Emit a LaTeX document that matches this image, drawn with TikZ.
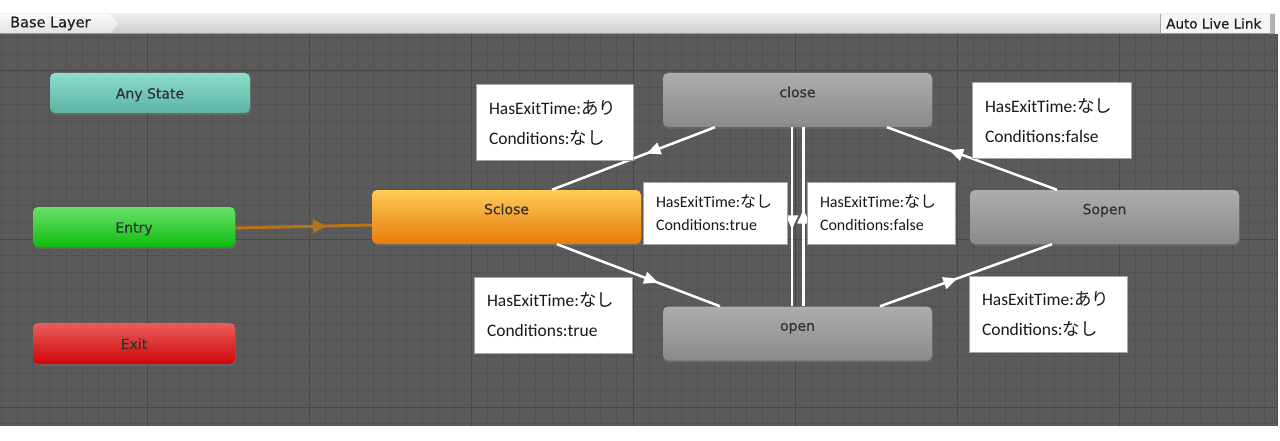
\documentclass[tikz,border=0pt]{standalone}
\usepackage{fontspec}
\usepackage{tikz}
\usetikzlibrary{arrows.meta,decorations.markings,shadows}
\setmainfont{Carlito}
\setsansfont{DejaVu Sans}
\newfontfamily\jp{Noto Sans CJK JP}
\newfontfamily\unityfont{DejaVu Sans}[FakeBold=0.6]

\definecolor{gridbg}{HTML}{5A5A5A}
\definecolor{gridminor}{HTML}{525252}
\definecolor{gridmajor}{HTML}{464646}
\definecolor{entrybrown}{HTML}{B5731A}

\definecolor{anytop}{HTML}{8DDDCB}
\definecolor{anybot}{HTML}{5BB3A3}
\definecolor{entrytop}{HTML}{6AE26A}
\definecolor{entrybot}{HTML}{0FBB0F}
\definecolor{exittop}{HTML}{E95D5D}
\definecolor{exitbot}{HTML}{D00505}
\definecolor{deftop}{HTML}{FFCB55}
\definecolor{defbot}{HTML}{E87C0C}
\definecolor{graytop}{HTML}{ADADAD}
\definecolor{graybot}{HTML}{8A8A8A}

\tikzset{
	unity/.style={rounded corners=5pt, font=\unityfont\fontsize{14}{16}\selectfont, text=black!80,
		drop shadow={opacity=0.35, shadow xshift=1pt, shadow yshift=-2pt}},
	smallstate/.style={unity, minimum width=202pt, minimum height=40pt, text height=11pt, text depth=0pt},
	bigstate/.style={unity, minimum width=269pt, minimum height=54pt, text height=11pt, text depth=16.5pt},
	anystate/.style={smallstate, minimum width=200pt, top color=anytop, bottom color=anybot},
	entrystate/.style={smallstate, top color=entrytop, bottom color=entrybot},
	exitstate/.style={smallstate, minimum height=41pt, top color=exittop, bottom color=exitbot},
	defstate/.style={bigstate, top color=deftop, bottom color=defbot},
	graystate/.style={bigstate, top color=graytop, bottom color=graybot},
	tlabel/.style={draw=black!35, line width=1pt, fill=white, align=left, inner xsep=13pt, inner ysep=0pt,
		minimum height=76pt, font=\fontsize{17.5}{30}\selectfont, text=black!90},
	tlabelsmall/.style={tlabel, minimum height=62pt, font=\fontsize{16}{23}\selectfont},
	trans/.style={draw=white, line width=2.5pt, postaction={decorate},
		decoration={markings, mark=at position #1 with {\arrow[white]{Triangle[length=14pt,width=12pt]}}}},
	trans/.default=0.5,
	entryline/.style={draw=entrybrown, line width=3pt, postaction={decorate},
		decoration={markings, mark=at position 0.67 with {\arrow[entrybrown]{Triangle[length=14pt,width=13pt]}}}},
	headtext/.style={anchor=west, inner sep=0pt, font=\unityfont\fontsize{13.5}{15}\selectfont, text=black!88}
}

\begin{document}
\begin{tikzpicture}[x=1pt,y=-1pt]
	\useasboundingbox (0,0) rectangle (1280,441);
	\fill[white] (0,0) rectangle (1280,441);

	% header
	\shade[top color=black!7, bottom color=black!20] (0,14) rectangle (1275,34);
	\shade[top color=black!2, bottom color=black!12] (0,14) -- (110,14) -- (118,24) -- (110,34) -- (0,34) -- cycle;
	\fill[black!4] (1160,14) rectangle (1270,33);
	\draw[black!35] (1160,14) -- (1160,33);
	\fill[black!30] (1270,14) rectangle (1275,34);
	\draw[black!40] (0,33.5) -- (1275,33.5);
	\node[headtext, font=\unityfont\fontsize{14.5}{16}\selectfont] (tab) at (10,23.5) {Base Layer};
	\node[headtext] (live) at (1166,23.5) {Auto Live Link};

	% grid
	\begin{scope}
		\clip (0,34) rectangle (1277,426);
		\fill[gridbg] (0,34) rectangle (1277,426);
		\foreach \i in {-10,...,70}
			\draw[gridminor, line width=0.8pt] ({147+16.2*\i},34) -- ({147+16.2*\i},426);
		\foreach \j in {-3,...,22}
			\draw[gridminor, line width=0.8pt] (0,{71+16.8*\j}) -- (1277,{71+16.8*\j});
		\foreach \i in {-1,...,7}
			\draw[gridmajor, line width=1pt] ({147+162*\i},34) -- ({147+162*\i},426);
		\foreach \j in {0,1,2}
			\draw[gridmajor, line width=1pt] (0,{71+168*\j}) -- (1277,{71+168*\j});
	\end{scope}
	\draw[black!70, line width=1pt] (1277,34) -- (1277,426);

	% states
	\node[anystate] (any) at (150,93) {Any State};
	\node[entrystate] (entry) at (134,227) {Entry};
	\node[exitstate] (exit) at (134,343.5) {Exit};
	\node[defstate] (sclose) at (506.5,217) {Sclose};
	\node[graystate] (close) at (797.5,100) {close};
	\node[graystate] (open) at (797.5,333.5) {open};
	\node[graystate] (sopen) at (1104.5,217) {Sopen};

	% transitions
	\draw[entryline] ([yshift=-1pt]entry.east) -- ([yshift=-8pt]sclose.west);
	\draw[trans=0.42] ([xshift=-82.5pt]close.south) -- ([xshift=45.5pt]sclose.north);
	\draw[trans=0.62] ([xshift=50.5pt]sclose.south) -- ([xshift=-77.5pt]open.north);
	\draw[trans=0.57] ([xshift=-5.5pt]close.south) -- ([xshift=-5.5pt]open.north);
	\draw[trans=0.54] ([xshift=6pt]open.north) -- ([xshift=6pt]close.south);
	\draw[trans=0.635] ([xshift=-47.5pt]sopen.north) -- ([xshift=89.5pt]close.south);
	\draw[trans=0.45] ([xshift=82.5pt]open.north) -- ([xshift=-52.5pt]sopen.south);

	% conditions
	\node[tlabel, text width=131pt] (lab1) at (554.5,123) {HasExitTime:{\jp あり}\\Conditions:{\jp なし}};
	\node[tlabelsmall, text width=118pt] (lab2) at (715,213) {HasExitTime:{\jp なし}\\Conditions:true};
	\node[tlabelsmall, text width=122pt] (lab3) at (881,213) {HasExitTime:{\jp なし}\\Conditions:false};
	\node[tlabel, text width=133pt] (lab4) at (1051.5,121) {HasExitTime:{\jp なし}\\Conditions:false};
	\node[tlabel, text width=132pt] (lab5) at (553,315) {HasExitTime:{\jp なし}\\Conditions:true};
	\node[tlabel, text width=132pt] (lab6) at (1048,314) {HasExitTime:{\jp あり}\\Conditions:{\jp なし}};
\end{tikzpicture}
\end{document}
